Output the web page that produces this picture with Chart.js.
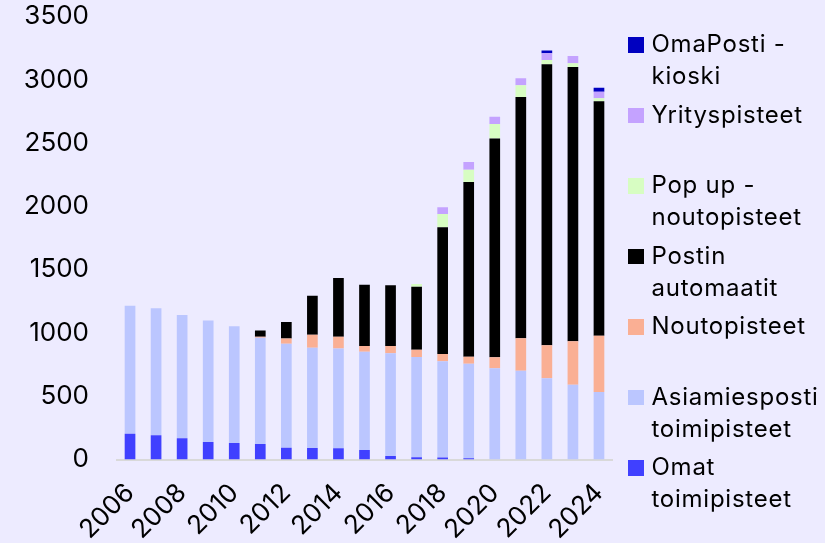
<!DOCTYPE html>
<html>
<head>
<meta charset="utf-8">
<script src="https://cdn.jsdelivr.net/npm/chart.js@4/dist/chart.umd.min.js"></script>
<style>
  html, body { margin: 0; padding: 0; background: #EDEBFF; }
  #wrap { position: relative; width: 825px; height: 543px; overflow: hidden; background: #EDEBFF; }
  #c { position: absolute; left: 0; top: 0; }
  #legend { position: absolute; left: 628px; top: 28px; font-family: Inter, "Liberation Sans", sans-serif; font-size: 24px; letter-spacing: 0.75px; color: #000; }
  .item { display: flex; height: 70.5px; }
  .sw { width: 15.5px; height: 15.5px; margin-top: 9px; flex: none; }
  .txt { margin-left: 8px; line-height: 32px; white-space: nowrap; }
</style>
</head>
<body>
<div id="wrap">
  <canvas id="c" width="825" height="543"></canvas>
  <div id="legend"></div>
</div>
<script>
const years = ["2006","2007","2008","2009","2010","2011","2012","2013","2014","2015","2016","2017","2018","2019","2020","2021","2022","2023","2024"];

const omatToimipisteet     = [204,191,167,138,130,122,93,91,88,75,28,18,16,10,0,0,0,0,0];
const asiamiespostiToimip  = [1011,1003,975,961,922,840,822,792,788,777,811,792,760,747,720,702,641,591,533];
const noutopisteet         = [0,0,0,0,0,8,40,103,94,45,58,58,57,55,87,255,261,343,445];
const postinAutomaatit     = [0,0,0,0,0,50,131,308,464,484,479,497,1001,1380,1730,1907,2220,2167,1852];
const popUpNoutopisteet    = [0,0,0,0,0,0,0,0,0,0,0,21,105,98,113,92,34,29,24];
const yrityspisteet        = [0,0,0,0,0,0,0,0,0,0,0,0,53,60,58,57,53,58,52];
const omaPostiKioski       = [0,0,0,0,0,0,0,0,0,0,0,0,0,0,0,0,23,0,31];

const yTicks = [0,500,1000,1500,2000,2500,3000,3500];
const xTickLabels = ["2006","2008","2010","2012","2014","2016","2018","2020","2022","2024"];

const seriesNames = [
  ["Omat","toimipisteet"],
  ["Asiamiesposti","toimipisteet"],
  ["Noutopisteet",""],
  ["Postin","automaatit"],
  ["Pop up -","noutopisteet"],
  ["Yrityspisteet",""],
  ["OmaPosti -","kioski"]
];
const seriesColors = ["#4040FF","#BBC6FF","#FAAF94","#000000","#D7FDC2","#C4A2FF","#0000C0"];
const seriesData = [omatToimipisteet, asiamiespostiToimip, noutopisteet, postinAutomaatit, popUpNoutopisteet, yrityspisteet, omaPostiKioski];

const datasets = seriesData.map((d, i) => ({
  label: seriesNames[i].filter(s => s).join(" "),
  data: d,
  backgroundColor: seriesColors[i],
  borderWidth: 0,
  barPercentage: 0.41,
  categoryPercentage: 1.0,
  stack: "s"
}));

const FONT = "Inter, 'Liberation Sans', sans-serif";

new Chart(document.getElementById("c"), {
  type: "bar",
  data: { labels: years, datasets },
  options: {
    responsive: false,
    animation: false,
    devicePixelRatio: 1,
    layout: { padding: { top: 16.5, right: 213, bottom: 0, left: 0 } },
    plugins: { legend: { display: false }, tooltip: { enabled: false } },
    scales: {
      x: {
        stacked: true,
        grid: { display: false, drawTicks: false },
        border: { display: true, color: "#D9D9D9", width: 2 },
        ticks: {
          autoSkip: false,
          maxRotation: 45,
          minRotation: 45,
          padding: 18,
          color: "#000",
          font: { family: FONT, size: 26 },
          callback: function(v, i) {
            const lab = this.getLabelForValue(v);
            return xTickLabels.includes(lab) ? lab : "";
          }
        },
        afterFit: (s) => { s.height = 83.5; }
      },
      y: {
        stacked: true,
        min: 0,
        max: 3500,
        grid: { display: false, drawTicks: false },
        border: { display: false },
        afterBuildTicks: (s) => { s.ticks = yTicks.map(v => ({ value: v })); },
        ticks: {
          padding: 28,
          color: "#000",
          font: { family: FONT, size: 26 },
          callback: (v) => String(v)
        },
        afterFit: (s) => { s.width = 117; s.paddingTop = 0; s.paddingBottom = 0; }
      }
    }
  }
});

// HTML legend (reverse stack order)
const lg = document.getElementById("legend");
for (let i = seriesNames.length - 1; i >= 0; i--) {
  const it = document.createElement("div");
  it.className = "item";
  const sw = document.createElement("div");
  sw.className = "sw";
  sw.style.background = seriesColors[i];
  const tx = document.createElement("div");
  tx.className = "txt";
  tx.innerHTML = seriesNames[i].map(s => s || "&nbsp;").join("<br>");
  it.appendChild(sw);
  it.appendChild(tx);
  lg.appendChild(it);
}
</script>
</body>
</html>
